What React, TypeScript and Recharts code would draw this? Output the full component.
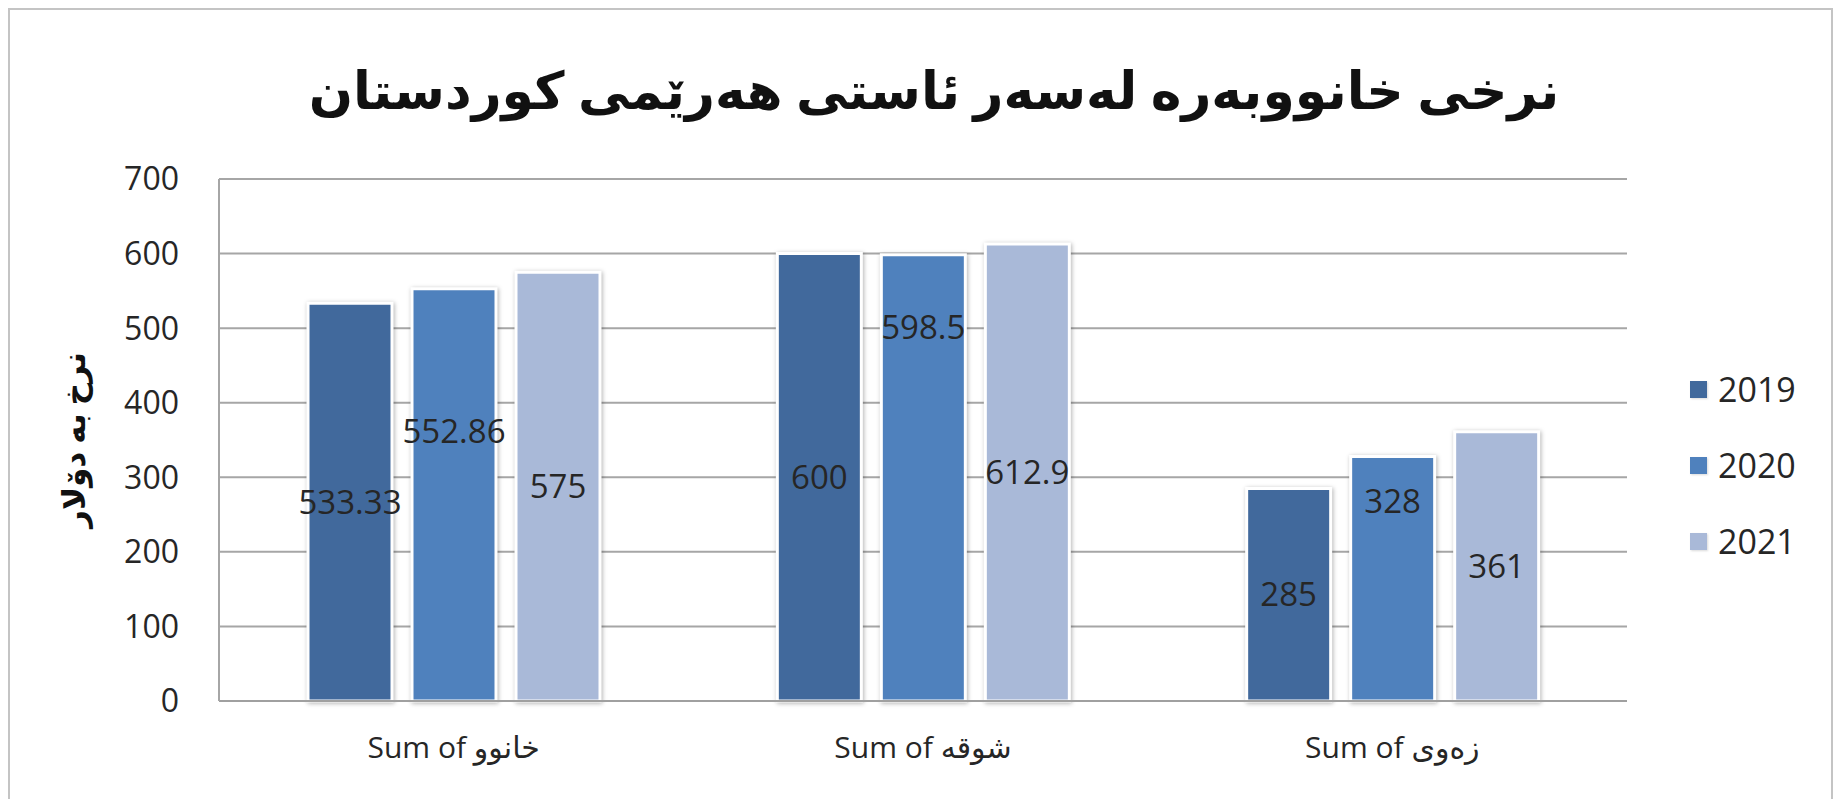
import { Bar, BarChart, CartesianGrid, LabelList, XAxis, YAxis } from "recharts";

const categories = ["Sum of خانوو", "Sum of شوقە", "Sum of زەوی"];
const years = ["2019", "2020", "2021"];
const values2019 = [533.33, 600, 285];
const values2020 = [552.86, 598.5, 328];
const values2021 = [575, 612.9, 361];
const yTicks = [0, 100, 200, 300, 400, 500, 600, 700];

const title = "نرخی خانووبەرە لەسەر ئاستی هەرێمی کوردستان";
const yTitle = "نرخ بە دۆلار";

const COLORS = ["#41699c", "#4f81bd", "#a9b9d8"];
const FONT = "'Open Sans', 'DejaVu Sans', sans-serif";

// the 2020 labels were dragged by hand in the original, so they sit higher up the bar
const lift2020 = [0.655, 0.84, 0.82];

const data = categories.map((c, i) => ({
  name: c,
  "2019": values2019[i],
  "2020": values2020[i],
  "2021": values2021[i],
}));

function MovedLabel(props: any) {
  const { x, y, width, height, value, index } = props;
  const cy = y + height - height * lift2020[index];
  return (
    <text x={x + width / 2} y={cy} textAnchor="middle" dominantBaseline="central" fontSize={33} fill="#262626" fontFamily={FONT}>
      {value}
    </text>
  );
}

function LegendBox() {
  return (
    <div style={{ position: "absolute", left: 1680, top: 341, fontFamily: FONT }}>
      {years.map((y, i) => (
        <div key={y} style={{ display: "flex", alignItems: "center", height: 76 }}>
          <span style={{ width: 17, height: 17, background: COLORS[i], marginRight: 11, boxShadow: "1px 1px 2px rgba(0,0,0,0.15)" }} />
          <span style={{ fontSize: 34, color: "#262626" }}>{y}</span>
        </div>
      ))}
    </div>
  );
}

const barShadow = { filter: "drop-shadow(1px 1px 2px rgba(0,0,0,0.3))" };
const labelStyle = { fontSize: 33, fill: "#262626", fontFamily: FONT };

export default function App() {
  return (
    <div style={{ position: "relative", width: 1821, height: 789, border: "2px solid #c4c4c4", borderBottom: "none", background: "#fff" }}>
      <style>{"html,body{overflow:hidden}"}</style>
      <div
        style={{
          position: "absolute",
          left: 924,
          top: 78,
          transform: "translate(-50%,-50%)",
          whiteSpace: "nowrap",
          fontFamily: FONT,
          fontWeight: 700,
          fontSize: 52,
          color: "#111",
          zIndex: 2,
        }}
      >
        {title}
      </div>
      <div
        style={{
          position: "absolute",
          left: 63,
          top: 430,
          transform: "translate(-50%,-50%) rotate(-90deg)",
          whiteSpace: "nowrap",
          fontFamily: FONT,
          fontWeight: 700,
          fontSize: 31,
          color: "#111",
          zIndex: 2,
        }}
      >
        {yTitle}
      </div>
      <LegendBox />
      <BarChart
        width={1821}
        height={789}
        data={data}
        margin={{ top: 169, right: 204, left: 89, bottom: 38 }}
        barSize={84}
        barGap={20}
      >
        <CartesianGrid vertical={false} stroke="#a6a6a6" strokeWidth={2} />
        <XAxis
          dataKey="name"
          height={60}
          tickLine={false}
          axisLine={{ stroke: "#a0a0a0", strokeWidth: 2 }}
          tickSize={0}
          tickMargin={36}
          tick={{ fontSize: 30, fill: "#262626", fontFamily: FONT }}
        />
        <YAxis
          width={120}
          domain={[0, 700]}
          ticks={yTicks}
          tickLine={false}
          axisLine={{ stroke: "#a6a6a6", strokeWidth: 2 }}
          tickSize={0}
          tickMargin={40}
          tick={{ fontSize: 32, fill: "#262626", fontFamily: FONT }}
        />
        <Bar dataKey="2019" fill={COLORS[0]} stroke="#fff" strokeWidth={3} isAnimationActive={false} style={barShadow}>
          <LabelList dataKey="2019" position="center" style={labelStyle} />
        </Bar>
        <Bar dataKey="2020" fill={COLORS[1]} stroke="#fff" strokeWidth={3} isAnimationActive={false} style={barShadow}>
          <LabelList dataKey="2020" content={<MovedLabel />} />
        </Bar>
        <Bar dataKey="2021" fill={COLORS[2]} stroke="#fff" strokeWidth={3} isAnimationActive={false} style={barShadow}>
          <LabelList dataKey="2021" position="center" style={labelStyle} />
        </Bar>
      </BarChart>
    </div>
  );
}
